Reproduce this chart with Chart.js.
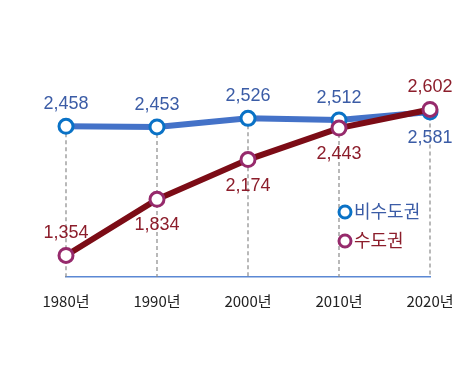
<!DOCTYPE html>
<html lang="ko">
<head>
<meta charset="UTF-8">
<script src="https://cdn.jsdelivr.net/npm/chart.js"></script>
<style>
  body { margin: 0; background: #fff; }
  #wrap { width: 474px; height: 392px; }
</style>
</head>
<body>
<div id="wrap"><canvas id="chart"></canvas></div>
<script>
// data
const years = ['1980년', '1990년', '2000년', '2010년', '2020년'];
const nonCapital = [2458, 2453, 2526, 2512, 2581];
const capital = [1354, 1834, 2174, 2443, 2602];
const seriesNames = ['비수도권', '수도권'];

const labelFont = "'Liberation Sans', Arial, 'Noto Sans CJK KR', sans-serif";

// dashed guides from the top point down to the axis
const guides = {
  id: 'guides',
  beforeDatasetsDraw(chart) {
    const { ctx, chartArea, scales } = chart;
    ctx.save();
    ctx.strokeStyle = '#8a8a8a';
    ctx.lineWidth = 1.2;
    ctx.setLineDash([4, 3]);
    years.forEach((y, i) => {
      const x = scales.x.getPixelForValue(i);
      const top = Math.min(scales.y.getPixelForValue(nonCapital[i]), scales.y.getPixelForValue(capital[i]));
      ctx.beginPath();
      ctx.moveTo(x, top);
      ctx.lineTo(x, chartArea.bottom);
      ctx.stroke();
    });
    ctx.restore();
  }
};

// value labels next to points
const valueLabels = {
  id: 'valueLabels',
  afterDatasetsDraw(chart) {
    const { ctx } = chart;
    ctx.save();
    ctx.font = '18px ' + labelFont;
    ctx.textAlign = 'center';
    ctx.textBaseline = 'middle';
    chart.data.datasets.forEach((ds, di) => {
      const meta = chart.getDatasetMeta(di);
      ctx.fillStyle = ds.labelColor;
      meta.data.forEach((pt, i) => {
        const dy = ds.labelPos[i] === 'below' ? 26 : -22;
        ctx.fillText(ds.data[i].toLocaleString('en-US'), pt.x, pt.y + dy);
      });
    });
    ctx.restore();
  }
};

// legend inside plot
const innerLegend = {
  id: 'innerLegend',
  afterDraw(chart) {
    const { ctx } = chart;
    ctx.save();
    ctx.font = '18px ' + labelFont;
    ctx.textBaseline = 'middle';
    chart.data.datasets.forEach((ds, i) => {
      const cx = 345, cy = 212 + i * 29;
      ctx.beginPath();
      ctx.arc(cx, cy, 6, 0, Math.PI * 2);
      ctx.fillStyle = '#fff';
      ctx.fill();
      ctx.lineWidth = 3;
      ctx.strokeStyle = ds.pointBorderColor;
      ctx.stroke();
      ctx.fillStyle = ds.labelColor;
      ctx.fillText(ds.label, cx + 9, cy + 1);
    });
    ctx.restore();
  }
};

new Chart(document.getElementById('chart'), {
  type: 'line',
  data: {
    labels: years,
    datasets: [
      {
        label: seriesNames[0],
        data: nonCapital,
        borderColor: '#4472c8',
        borderWidth: 6,
        pointRadius: 7,
        pointBorderWidth: 3,
        pointBackgroundColor: '#fff',
        pointBorderColor: '#0a72c6',
        labelColor: '#3b5ca6',
        labelPos: ['above', 'above', 'above', 'above', 'below'],
        order: 2
      },
      {
        label: seriesNames[1],
        data: capital,
        borderColor: '#7c0c16',
        borderWidth: 6,
        pointRadius: 7,
        pointBorderWidth: 3,
        pointBackgroundColor: '#fff',
        pointBorderColor: '#962a6c',
        labelColor: '#8c1d2b',
        labelPos: ['above', 'below', 'below', 'below', 'above'],
        order: 1
      }
    ]
  },
  options: {
    responsive: true,
    maintainAspectRatio: false,
    animation: false,
    clip: false,
    layout: { padding: { left: 66, right: 44, top: 60, bottom: 67 } },
    plugins: { legend: { display: false }, tooltip: { enabled: false } },
    elements: { line: { tension: 0 } },
    scales: {
      x: {
        offset: false,
        grid: { display: false, drawTicks: false },
        border: { display: true, color: '#5b88d4', width: 1.5 },
        ticks: {
          padding: 15,
          color: '#222',
          font: { family: "'Liberation Sans Narrow', 'Noto Sans CJK KR', sans-serif", size: 15 }
        }
      },
      y: { display: false, min: 1170, max: 3025 }
    }
  },
  plugins: [guides, valueLabels, innerLegend]
});
</script>
</body>
</html>
